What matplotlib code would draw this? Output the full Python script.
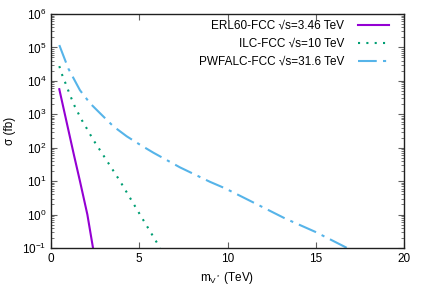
import matplotlib
matplotlib.use("Agg")
import matplotlib.pyplot as plt
import numpy as np

plt.rcParams['font.family'] = ['Liberation Sans', 'DejaVu Sans']
plt.rcParams['mathtext.fontset'] = 'custom'
plt.rcParams['mathtext.rm'] = 'Liberation Sans'
plt.rcParams['mathtext.it'] = 'Liberation Sans'

# values: mass (TeV), log10(sigma / fb)
erl_m = [0.47, 1.30, 1.64, 2.06, 2.38]
erl_logsig = [3.75, 1.78, 1.0, 0.0, -1.0]

ilc_m = [0.47, 0.6, 0.79, 1.08, 1.36, 1.74, 2.02, 2.40, 2.87, 3.91, 5.04, 6.18]
ilc_logsig = [4.44, 4.22, 3.97, 3.57, 3.22, 2.83, 2.58, 2.23, 1.85, 1.0, 0.0, -1.0]

pwf_m = [0.47, 0.98, 1.64, 2.21, 2.78, 3.53, 4.29, 5.04, 5.8, 7.31, 9.0,
         9.88, 11.58, 13.27, 14.98, 16.77]
pwf_logsig = [5.07, 4.37, 3.72, 3.33, 3.03, 2.64, 2.34, 2.09, 1.85, 1.41, 0.98,
              0.78, 0.33, -0.12, -0.52, -1.0]

labels = ['ERL60-FCC \u221as=3.46 TeV',
          'ILC-FCC \u221as=10 TeV',
          'PWFALC-FCC \u221as=31.6 TeV']

fs = 8.5

fig = plt.figure(figsize=(4.25, 2.98), dpi=100)
ax = fig.add_axes([0.12, 0.168, 0.8306, 0.785])

ax.plot(erl_m, 10 ** np.array(erl_logsig), color='#9400d3', lw=1.5,
        label=labels[0])
ax.plot(ilc_m, 10 ** np.array(ilc_logsig), color='#009e73', lw=1.5,
        linestyle=(0, (1.0, 3.0)), label=labels[1])
ax.plot(pwf_m, 10 ** np.array(pwf_logsig), color='#56b4e9', lw=1.5,
        linestyle=(0, (9, 3, 1.5, 3)), label=labels[2])

ax.set_yscale('log')
ax.set_xlim(0, 20)
ax.set_ylim(1e-1, 1e6)
ax.set_xticks([0, 5, 10, 15, 20])
ax.tick_params(which='both', direction='in', top=True, right=True,
               labelsize=fs, color='#606060')
ax.tick_params(which='major', length=4)
ax.tick_params(which='minor', length=2)
for s in ax.spines.values():
    s.set_linewidth(1.0)
    s.set_color('#202020')

ax.set_xlabel(r'm$_{\mathregular{V^*}}$ (TeV)', fontsize=fs, labelpad=4)
ax.set_ylabel('\u03c3 (fb)', fontsize=fs, labelpad=4)

ax.legend(loc='upper right', bbox_to_anchor=(0.957, 0.975), frameon=False,
          markerfirst=False, fontsize=fs, handlelength=2.6, borderpad=0,
          labelspacing=0.5, handletextpad=1.2, borderaxespad=0)

fig.savefig('out.png', dpi=100)
